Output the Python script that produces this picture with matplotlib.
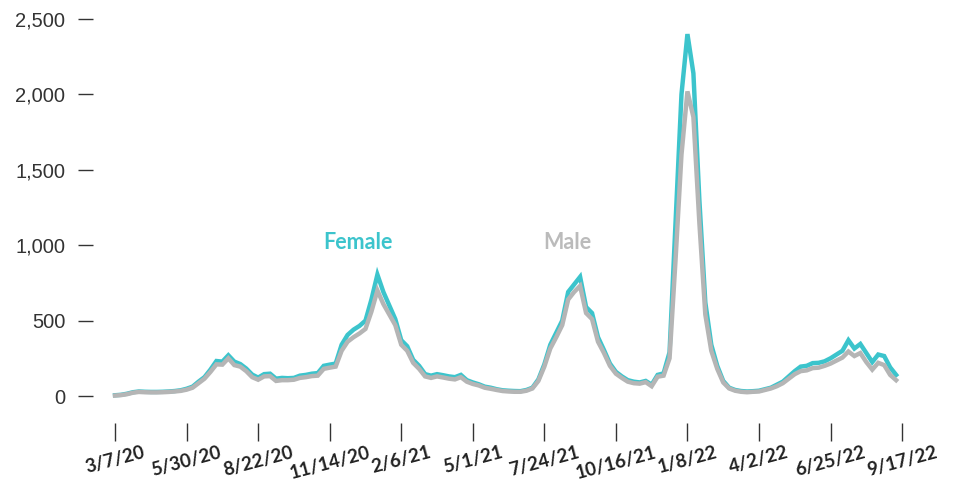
import matplotlib
matplotlib.use('Agg')
import matplotlib.pyplot as plt
from matplotlib.ticker import FuncFormatter

# weekly counts, week 0 = 3/7/20
female = [5, 8, 15, 25, 30, 28, 27, 27, 28, 30, 33, 38, 48, 62, 95, 125, 175, 232, 228, 270,
          228, 212, 182, 142, 122, 145, 148, 115, 120, 118, 120, 135, 140, 148, 152, 200, 208, 215, 340, 405,
          440, 465, 500, 640, 805, 690, 600, 510, 370, 330, 240, 200, 145, 135, 145, 138, 130, 125, 140, 105,
          90, 78, 62, 55, 45, 38, 35, 33, 32, 40, 55, 110, 210, 340, 420, 500, 690, 740, 790, 590,
          550, 390, 305, 215, 160, 130, 105, 95, 90, 100, 75, 140, 150, 290, 1150, 2000, 2400, 2140, 1300, 620,
          340, 200, 100, 55, 40, 33, 30, 32, 35, 45, 55, 75, 95, 130, 165, 195, 200, 218, 220, 230,
          250, 275, 300, 370, 315, 345, 285, 225, 275, 265, 190, 140]
male = [3, 6, 12, 22, 27, 25, 24, 24, 25, 27, 30, 34, 42, 55, 85, 115, 160, 210, 208, 250,
        205, 195, 165, 125, 108, 130, 132, 100, 105, 105, 108, 120, 125, 132, 135, 180, 188, 195, 300, 360,
        390, 415, 445, 560, 700, 610, 540, 470, 340, 300, 220, 180, 130, 120, 130, 123, 115, 110, 125, 95,
        80, 70, 55, 48, 40, 33, 30, 28, 28, 35, 50, 100, 195, 315, 390, 470, 640, 690, 730, 550,
        510, 360, 285, 200, 148, 120, 95, 85, 82, 92, 65, 128, 135, 250, 900, 1600, 2020, 1850, 1150, 540,
        300, 180, 90, 50, 35, 28, 25, 28, 30, 40, 50, 65, 85, 115, 145, 165, 170, 185, 188, 200,
        215, 235, 255, 295, 265, 285, 225, 175, 220, 205, 140, 105]
tick_labels = ['3/7/20', '5/30/20', '8/22/20', '11/14/20', '2/6/21', '5/1/21',
               '7/24/21', '10/16/21', '1/8/22', '4/2/22', '6/25/22', '9/17/22']
y_ticks = [0, 500, 1000, 1500, 2000, 2500]

TEAL = '#3cc4cc'
GRAY = '#b5b5b5'
DARK = '#333333'

fig = plt.figure(figsize=(9.54, 4.8), dpi=100)
ax = fig.add_axes([93 / 954, 57 / 480, (914 - 93) / 954, (423 - 19) / 480])

weeks = list(range(len(female)))
ax.plot(weeks, female, color=TEAL, lw=3.2, solid_joinstyle='miter')
ax.plot(weeks, male, color=GRAY, lw=3.2, solid_joinstyle='miter')

ax.text(40.8, 1016, 'Female', color=TEAL, fontsize=15.5, fontweight='bold',
        family='Lato', ha='center', va='center')
ax.text(75.8, 1016, 'Male', color='#bbbbbb', fontsize=15.5, fontweight='bold',
        family='Lato', ha='center', va='center')

ax.set_xlim(-3.7, 134)
ax.set_ylim(-179, 2500)
ax.set_xticks([12 * i for i in range(len(tick_labels))])
ax.set_xticklabels(tick_labels, rotation=15, ha='center', family='Lato',
                   fontweight='bold', fontsize=13.5, color='#222222')
ax.set_yticks(y_ticks)
ax.yaxis.set_major_formatter(FuncFormatter(lambda v, p: f'{int(v):,}'))
for lab in ax.get_yticklabels():
    lab.set_family('Liberation Sans')
    lab.set_fontsize(14.5)
    lab.set_color(DARK)

ax.tick_params(axis='y', direction='out', length=11, width=1, color=DARK, pad=9)
ax.tick_params(axis='x', direction='out', length=13, width=1, color=DARK, pad=2)
for s in ax.spines.values():
    s.set_visible(False)

fig.savefig('out.png', dpi=100)
